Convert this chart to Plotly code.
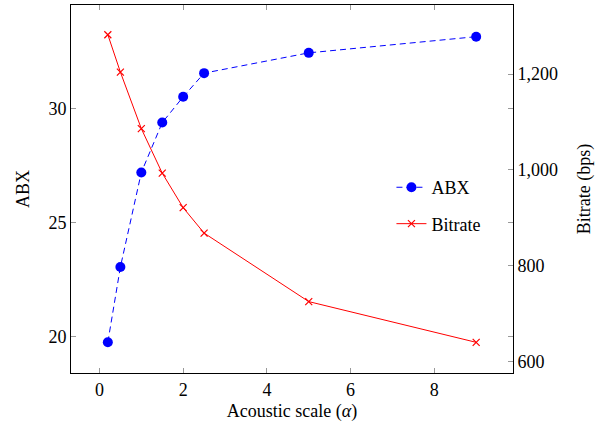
import plotly.graph_objects as go

scale = [0.2, 0.5, 1, 1.5, 2, 2.5, 5, 9]
abx = [19.75, 23.05, 27.2, 29.39, 30.52, 31.56, 32.45, 33.16]
bitrate = [1282, 1204, 1086, 993, 921, 868, 725, 640]

x_ticks = [0, 2, 4, 6, 8]
abx_ticks = [20, 25, 30]
bitrate_ticks = [600, 800, 1000, 1200]

FONT = "Liberation Serif"
FS = 18

fig = go.Figure()
fig.add_trace(go.Scatter(
    x=scale, y=abx, name="ABX", mode="lines+markers",
    line=dict(color="rgb(0,0,255)", width=1, dash="6px,4px"),
    marker=dict(symbol="circle", size=10, color="rgb(0,0,255)"),
    legendgroup="a", yaxis="y"))
fig.add_trace(go.Scatter(
    x=scale, y=bitrate, name="Bitrate", mode="lines+markers",
    line=dict(color="rgb(255,0,0)", width=1),
    marker=dict(symbol="x-thin", size=7, line=dict(color="rgb(255,0,0)", width=1.2)),
    legendgroup="b", yaxis="y2"))

axis_common = dict(
    showline=True, linecolor="black", linewidth=1,
    ticks="inside", ticklen=5, tickcolor="#999", tickwidth=1,
    showgrid=False, zeroline=False,
    tickfont=dict(family=FONT, size=FS, color="black"),
)

fig.update_layout(
    width=608, height=426,
    margin=dict(l=71, r=95, t=5, b=53),
    paper_bgcolor="white", plot_bgcolor="white",
    font=dict(family=FONT, size=FS, color="black"),
    xaxis=dict(range=[-0.68, 9.88], tickvals=x_ticks, mirror="ticks",
               title=dict(text="Acoustic scale (<i>α</i>)", standoff=5,
                          font=dict(family=FONT, size=FS)),
               **axis_common),
    yaxis=dict(range=[18.4, 34.55], tickvals=abx_ticks, mirror="ticks",
               title=dict(text="ABX", standoff=14, font=dict(family=FONT, size=FS)),
               **axis_common),
    yaxis2=dict(range=[576, 1344], tickvals=bitrate_ticks, tickformat=",d",
                overlaying="y", side="right",
                title=dict(text="Bitrate (bps)", standoff=20, font=dict(family=FONT, size=FS)),
                **axis_common),
    legend=dict(x=0.725, y=0.455, xanchor="left", yanchor="middle",
                bgcolor="rgba(0,0,0,0)", borderwidth=0,
                traceorder="grouped", tracegroupgap=10,
                font=dict(family=FONT, size=FS)),
    showlegend=True,
)

fig.write_html("out.html", config={"displayModeBar": False},
               post_script="document.body.style.margin='0';")
